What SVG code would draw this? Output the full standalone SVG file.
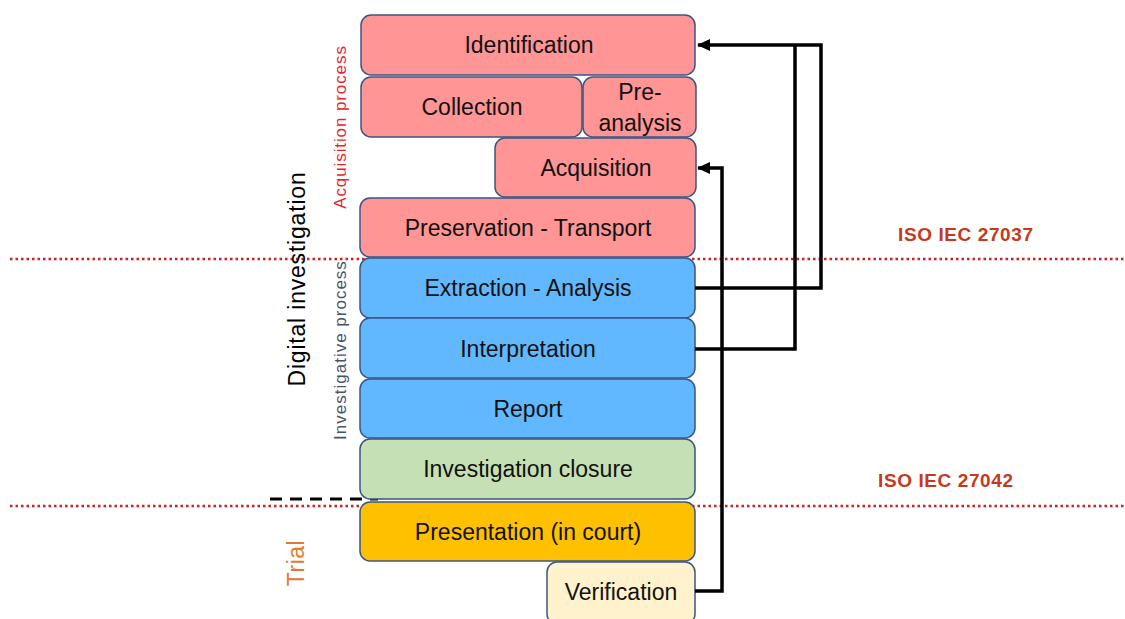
<svg xmlns="http://www.w3.org/2000/svg" width="1125" height="619" viewBox="0 0 1125 619">
<style>
.box{stroke:#3A5585;stroke-width:1.5}
.pink{fill:#FF9595}
.blue{fill:#61B8FF}
.green{fill:#C5E0B4}
.orange{fill:#FFC000}
.cream{fill:#FFF2CC}
.t{font-family:"Liberation Sans",Arial,sans-serif;font-size:23px;fill:#111;text-anchor:middle}
.conn{fill:none;stroke:#000;stroke-width:3.5}
.sep{stroke:#D21F1F;stroke-width:2.5;stroke-dasharray:2.5 3}
.iso{font-family:"Liberation Sans",Arial,sans-serif;font-weight:bold;font-size:19px;letter-spacing:0.6px;fill:#C5391C}
.side{font-family:"Liberation Sans",Arial,sans-serif;text-anchor:middle}
</style>
<defs>
<marker id="ah" markerWidth="13" markerHeight="12" refX="12" refY="6" orient="auto" markerUnits="userSpaceOnUse" viewBox="0 0 13 12">
<path d="M0,0 L13,6 L0,12 Z" fill="#000"/>
</marker>
</defs>
<rect width="1125" height="619" fill="#fff"/>

<g id="separators">
<line class="sep" x1="10" y1="259" x2="1125" y2="259"/>
<line class="sep" x1="10" y1="506" x2="1125" y2="506"/>
<line x1="270" y1="499" x2="378" y2="499" stroke="#000" stroke-width="3" stroke-dasharray="12 8"/>
</g>

<g id="labels">
<text class="side" transform="translate(305,279) rotate(-90)" font-size="23" letter-spacing="0.8" fill="#000">Digital investigation</text>
<text class="side" transform="translate(346,127) rotate(-90)" font-size="17" letter-spacing="0.9" fill="#E8242B">Acquisition process</text>
<text class="side" transform="translate(346,350) rotate(-90)" font-size="17" letter-spacing="1" fill="#44546A">Investigative process</text>
<text class="side" transform="translate(304,563) rotate(-90)" font-size="23" letter-spacing="0.5" fill="#E07A30">Trial</text>
<text class="iso" x="898" y="241">ISO IEC 27037</text>
<text class="iso" x="878" y="487">ISO IEC 27042</text>
</g>

<g id="identification"><rect class="box pink" x="361" y="15" width="334" height="60" rx="10"/><text class="t" x="529" y="53">Identification</text></g>
<g id="collection"><rect class="box pink" x="361" y="77" width="221" height="60" rx="10"/><text class="t" x="472" y="115">Collection</text></g>
<g id="pre-analysis"><rect class="box pink" x="583" y="77" width="113" height="60" rx="10"/><text class="t" x="640" y="100">Pre-</text><text class="t" x="640" y="131">analysis</text></g>
<g id="acquisition"><rect class="box pink" x="495" y="138" width="201" height="59" rx="10"/><text class="t" x="596" y="176">Acquisition</text></g>
<g id="preservation"><rect class="box pink" x="360" y="198" width="335" height="59" rx="10"/><text class="t" x="528" y="236">Preservation - Transport</text></g>
<g id="extraction"><rect class="box blue" x="360" y="258" width="335" height="60" rx="10"/><text class="t" x="528" y="296">Extraction - Analysis</text></g>
<g id="interpretation"><rect class="box blue" x="360" y="318" width="335" height="60" rx="10"/><text class="t" x="528" y="357">Interpretation</text></g>
<g id="report"><rect class="box blue" x="360" y="379" width="335" height="59" rx="10"/><text class="t" x="528" y="417">Report</text></g>
<g id="closure"><rect class="box green" x="360" y="439" width="335" height="60" rx="10"/><text class="t" x="528" y="477">Investigation closure</text></g>
<g id="presentation"><rect class="box orange" x="360" y="502" width="335" height="59" rx="10"/><text class="t" x="528" y="540">Presentation (in court)</text></g>
<g id="verification"><rect class="box cream" x="547" y="562" width="148" height="62" rx="10"/><text class="t" x="621" y="600">Verification</text></g>

<g id="connectors">
<polyline class="conn" points="695,288 821,288 821,45 698,45" marker-end="url(#ah)"/>
<polyline class="conn" points="695,349 795,349 795,45"/>
<polyline class="conn" points="695,591 722,591 722,168 698,168" marker-end="url(#ah)"/>
</g>
</svg>
